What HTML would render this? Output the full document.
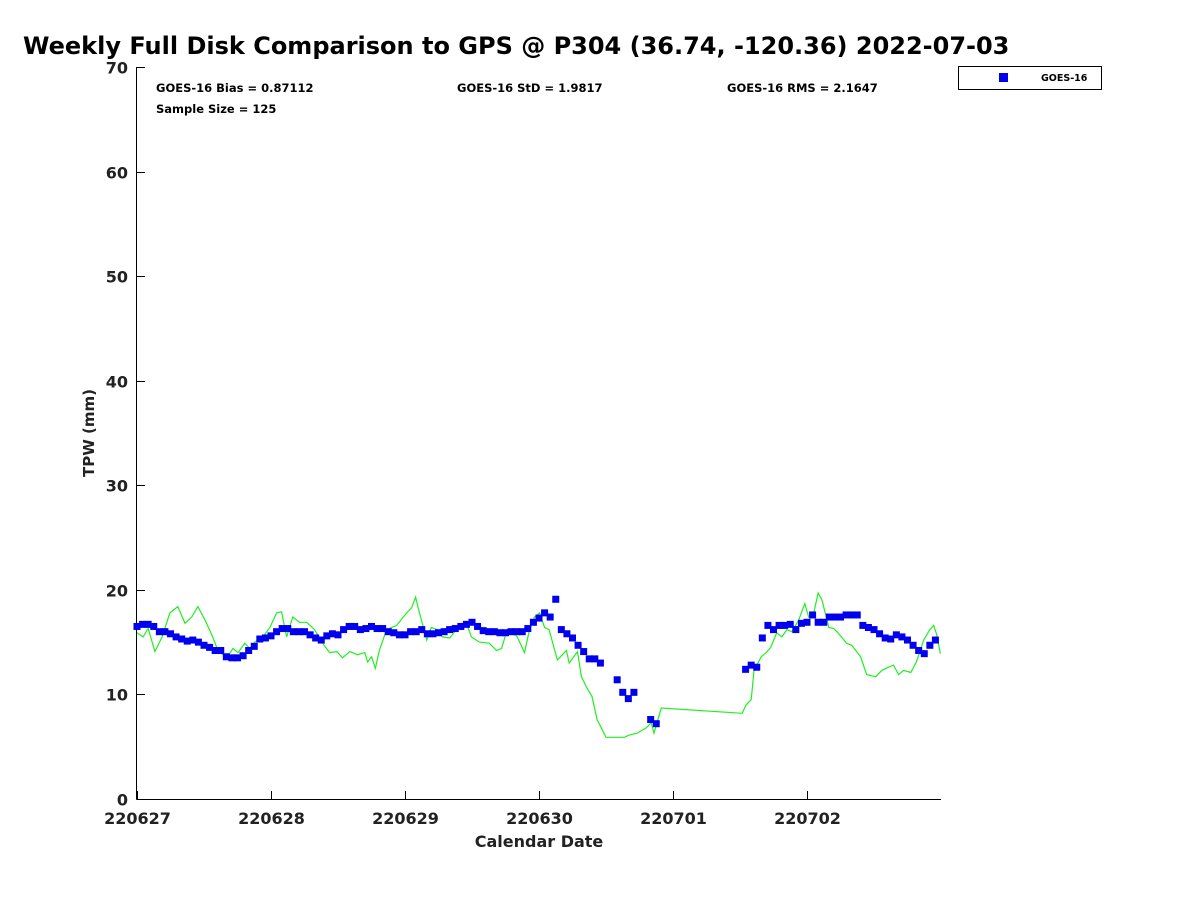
<!DOCTYPE html>
<html><head><meta charset="utf-8"><style>
body{margin:0;background:#fff;}
svg{display:block;font-family:"DejaVu Sans","Liberation Sans",sans-serif;}
</style></head><body>
<svg id="chart" width="1200" height="900">
<rect width="1200" height="900" fill="#fff"/>
<text x="23" y="54" font-size="24" font-weight="bold">Weekly Full Disk Comparison to GPS @ P304 (36.74, -120.36) 2022-07-03</text>
<text x="156" y="92" font-size="11.5" font-weight="bold">GOES-16 Bias = 0.87112</text>
<text x="457" y="92" font-size="11.5" font-weight="bold">GOES-16 StD = 1.9817</text>
<text x="727" y="92" font-size="11.5" font-weight="bold">GOES-16 RMS = 2.1647</text>
<text x="156" y="113" font-size="11.5" font-weight="bold">Sample Size = 125</text>
<g>
<rect x="958.5" y="66.5" width="143" height="23" fill="#fff" stroke="#000" stroke-width="1"/>
<rect x="999" y="73" width="9" height="9" fill="#0000ee"/>
<text x="1041" y="81" font-size="9.5" font-weight="bold">GOES-16</text>
</g>
<text transform="translate(94,433) rotate(-90)" text-anchor="middle" font-size="15" font-weight="bold" fill="#222">TPW (mm)</text>
<text x="539" y="847" text-anchor="middle" font-size="16" font-weight="bold" fill="#222">Calendar Date</text>
<g id="axes"></g>
<g id="marks"></g>
</svg>
<script>
const xTickLabels=["220627","220628","220629","220630","220701","220702"];
const xTickHours=[0,24,48,72,96,120];
const yTicks=[0,10,20,30,40,50,60,70];
const goesHours=[0,1,2,3,4,5,6,7,8,9,10,11,12,13,14,15,16,17,18,19,20,21,22,23,24,25,26,27,28,29,30,31,32,33,34,35,36,37,38,39,40,41,42,43,44,45,46,47,48,49,50,51,52,53,54,55,56,57,58,59,60,61,62,63,64,65,66,67,68,69,70,71,72,73,74,75,76,77,78,79,80,81,82,83,86,87,88,89,92,93,109,110,111,112,113,114,115,116,117,118,119,120,121,122,123,124,125,126,127,128,129,130,131,132,133,134,135,136,137,138,139,140,141,142,143];
const goesValues=[16.5,16.7,16.7,16.5,16.0,16.0,15.8,15.5,15.3,15.1,15.2,15.0,14.7,14.5,14.2,14.2,13.6,13.5,13.5,13.7,14.2,14.6,15.3,15.4,15.6,16.0,16.3,16.3,16.0,16.0,16.0,15.7,15.4,15.2,15.6,15.8,15.7,16.2,16.5,16.5,16.2,16.3,16.5,16.3,16.3,16.0,15.9,15.7,15.7,16.0,16.0,16.2,15.8,15.8,15.9,16.0,16.2,16.3,16.5,16.7,16.9,16.5,16.1,16.0,16.0,15.9,15.9,16.0,16.0,16.0,16.3,16.9,17.3,17.8,17.4,19.1,16.2,15.8,15.4,14.7,14.1,13.4,13.4,13.0,11.4,10.2,9.6,10.2,7.6,7.2,12.4,12.8,12.6,15.4,16.6,16.2,16.6,16.6,16.7,16.2,16.8,16.9,17.6,16.9,16.9,17.4,17.4,17.4,17.6,17.6,17.6,16.6,16.4,16.2,15.8,15.4,15.3,15.7,15.5,15.2,14.7,14.2,13.9,14.7,15.2];
const gpsHours=[0,1.1,2.0,3.2,4.5,5.9,7.3,8.6,9.8,10.9,12.2,13.4,14.5,16.1,17.2,18.1,19.3,20.2,21.1,22.4,23.8,25.0,25.9,26.8,27.9,29.1,30.4,31.8,33.1,34.5,35.8,36.8,38.1,39.5,40.8,41.3,42.0,42.7,43.4,44.7,46.5,48.3,49.2,49.9,50.6,51.9,52.7,53.8,54.7,56.0,57.2,58.1,59.0,59.9,61.3,63.1,64.4,65.3,66.3,67.2,68.1,69.4,70.3,71.2,72.1,73.0,73.8,75.3,76.9,77.4,78.9,79.6,80.5,81.5,82.4,84.0,85.8,87.3,88.1,89.6,91.2,92.1,92.6,93.9,108.4,109.1,110.0,110.5,111.8,112.7,113.5,114.6,115.5,116.4,117.3,118.5,119.6,120.3,121.2,122.0,122.7,123.9,124.8,125.7,127.1,128.0,129.6,130.7,132.3,133.4,134.6,135.5,136.4,137.3,138.6,139.6,140.9,142.0,142.7,143.2,143.9];
const gpsValues=[15.9,15.5,16.3,14.1,15.5,17.8,18.4,16.8,17.4,18.4,17.1,15.7,14.2,13.5,14.4,14.0,14.9,14.4,15.0,15.4,16.4,17.8,17.9,15.5,17.4,16.9,16.9,16.2,15.0,14.0,14.1,13.5,14.1,13.8,14.0,13.1,13.6,12.5,14.2,16.2,16.6,17.8,18.3,19.3,17.8,15.2,16.4,16.2,15.5,15.4,16.2,16.4,16.8,15.5,15.0,14.9,14.2,14.4,16.2,16.0,15.5,14.0,16.2,17.4,17.8,16.4,16.2,13.3,14.2,13.0,14.1,11.7,10.7,9.8,7.6,5.9,5.9,5.9,6.1,6.3,6.8,7.3,6.3,8.7,8.2,9.0,9.5,12.3,13.6,14.0,14.5,15.9,15.5,16.2,16.0,17.1,18.7,17.4,17.8,19.7,19.0,16.4,16.3,15.8,14.9,14.7,13.6,11.9,11.7,12.3,12.6,12.8,11.9,12.3,12.1,13.1,15.2,16.2,16.6,15.8,13.9];

const NS="http://www.w3.org/2000/svg";
const X0=137,X1=941,Y0=799,Y1=67;
function xs(h){return X0+(X1-X0)*h/144;}
function ys(v){return Y0-(Y0-Y1)*v/70;}
function mk(tag,attrs,parent){const e=document.createElementNS(NS,tag);for(const k in attrs)e.setAttribute(k,attrs[k]);parent.appendChild(e);return e;}
const axes=document.getElementById('axes'),marks=document.getElementById('marks');
let a=mk('line',{x1:X0-0.5,y1:Y1,x2:X0-0.5,y2:Y0+0.5,stroke:'#000','stroke-width':1},axes);


a=mk('line',{x1:X0-0.5,y1:Y0+0.5,x2:X1,y2:Y0+0.5,stroke:'#000','stroke-width':1},axes);


yTicks.forEach(v=>{const y=Math.round(ys(v))+0.5;
 mk('line',{x1:X0,y1:y,x2:X0+8,y2:y,stroke:'#000'},axes);
 const t=mk('text',{x:X0-9,y:y+6,'text-anchor':'end','font-size':16,'font-weight':'bold',fill:'#222'},axes);t.textContent=v;
 
 
});
xTickHours.forEach((h,i)=>{const x=Math.round(xs(h))+0.5;
 mk('line',{x1:x,y1:Y0,x2:x,y2:Y0-8,stroke:'#000'},axes);
 const t=mk('text',{x:x,y:824,'text-anchor':'middle','font-size':16,'font-weight':'bold',fill:'#222'},axes);t.textContent=xTickLabels[i];
 
 
});
const line=mk('polyline',{points:gpsHours.map((h,i)=>xs(h).toFixed(1)+','+ys(gpsValues[i]).toFixed(1)).join(' '),fill:'none',stroke:'#22ee22','stroke-width':1.2},marks);


goesHours.forEach((h,i)=>{
 const r=mk('rect',{x:xs(h)-3.5,y:ys(goesValues[i])-3.5,width:7,height:7,fill:'#0000ee'},marks);
 
 
});
</script>
</body></html>
